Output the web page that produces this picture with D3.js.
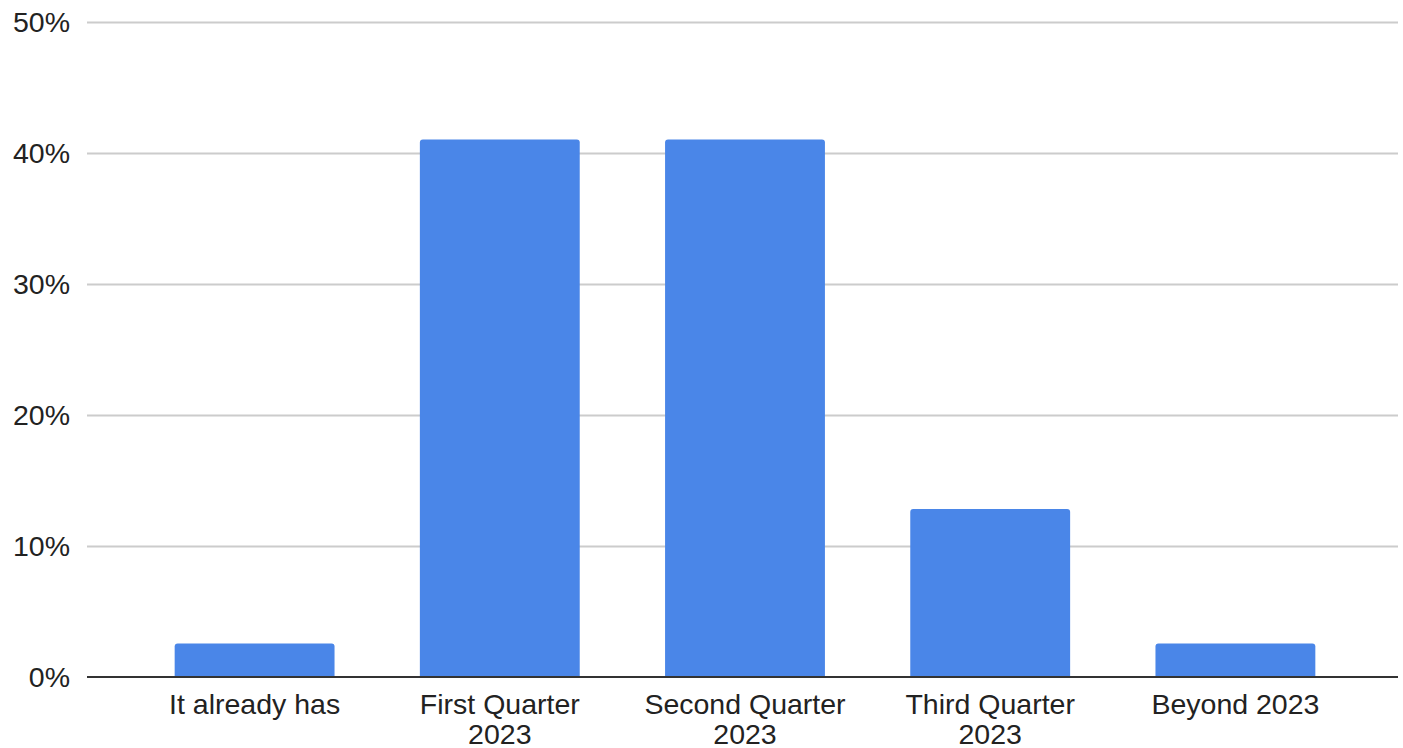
<!DOCTYPE html>
<html>
<head>
<meta charset="utf-8">
<script src="https://cdn.jsdelivr.net/npm/d3@7"></script>
<style>
  html, body { margin: 0; padding: 0; background: #fff; }
  svg { display: block; }
  text { font-family: "Liberation Sans", Arial, sans-serif; }
</style>
</head>
<body>
<svg id="chart" width="1403" height="748"></svg>
<script>
const categories = ["It already has", "First Quarter 2023", "Second Quarter 2023", "Third Quarter 2023", "Beyond 2023"];
const values = [2.56, 41.03, 41.03, 12.82, 2.56];
const yTicks = [0, 10, 20, 30, 40, 50];

const W = 1403, H = 748;
const plot = { left: 87, right: 1398, top: 22, bottom: 677 };
const svg = d3.select("#chart");

const x = d3.scaleBand()
  .domain(categories)
  .range([132, 1358])
  .paddingInner(0.348)
  .paddingOuter(0.174);

const y = d3.scaleLinear().domain([0, 50]).range([plot.bottom, plot.top]);

// gridlines
const yAxis = d3.axisLeft(y).tickValues(yTicks).tickFormat(d => d + "%")
  .tickSize(-(plot.right - plot.left)).tickPadding(17);
const gy = svg.append("g").attr("transform", `translate(${plot.left},0)`).call(yAxis);
gy.select(".domain").remove();
gy.selectAll(".tick line").attr("stroke", "#cccccc").attr("stroke-width", 2)
  .attr("display", d => d === 0 ? "none" : null);
gy.selectAll(".tick text").attr("fill", "#222").attr("font-size", 28.5).attr("dy", "0.35em");

// bars with rounded tops
const r = 3;
function barPath(d, i) {
  const x0 = x(d), w = x.bandwidth(), y0 = y(values[i]), yb = y(0);
  return `M${x0},${yb}V${y0 + r}Q${x0},${y0} ${x0 + r},${y0}H${x0 + w - r}Q${x0 + w},${y0} ${x0 + w},${y0 + r}V${yb}Z`;
}
svg.append("g").selectAll("path").data(categories).join("path")
  .attr("d", barPath).attr("fill", "#4a86e8");

// baseline
svg.append("line").attr("x1", plot.left).attr("x2", plot.right)
  .attr("y1", y(0)).attr("y2", y(0)).attr("stroke", "#333").attr("stroke-width", 2);

// x axis labels
const xAxis = d3.axisBottom(x).tickSize(0).tickPadding(0);
const gx = svg.append("g").attr("transform", `translate(0,${y(0)})`).call(xAxis);
gx.select(".domain").remove();
gx.selectAll(".tick text").attr("fill", "#222").attr("font-size", 28.5).attr("y", 37).attr("dy", 0)
  .each(function(d) {
    const t = d3.select(this);
    const words = d.split(" ");
    t.text(null);
    let line = [], lineNo = 0;
    let tspan = t.append("tspan").attr("x", 0).attr("y", 37);
    for (const w of words) {
      line.push(w);
      tspan.text(line.join(" "));
      if (tspan.node().getComputedTextLength() > x.step() - 20 && line.length > 1) {
        line.pop();
        tspan.text(line.join(" "));
        line = [w];
        lineNo++;
        tspan = t.append("tspan").attr("x", 0).attr("y", 37 + lineNo * 30).text(w);
      }
    }
  });
</script>
</body>
</html>
